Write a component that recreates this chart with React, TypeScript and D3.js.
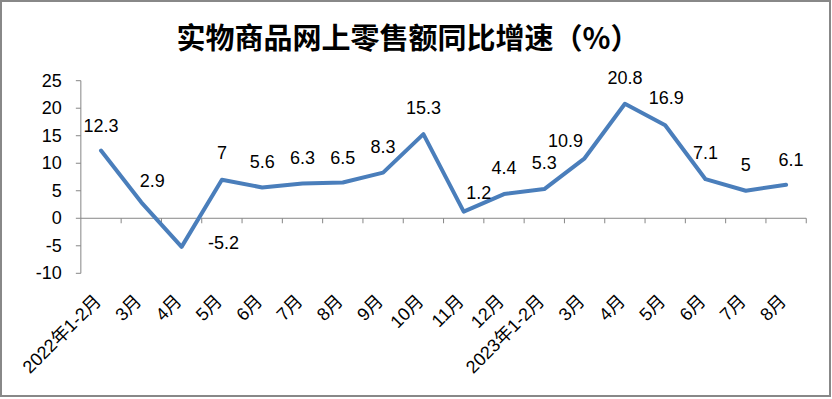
import React from "react";
import * as d3 from "d3";

const categories = [
  "2022年1-2月", "3月", "4月", "5月", "6月", "7月", "8月", "9月", "10月",
  "11月", "12月", "2023年1-2月", "3月", "4月", "5月", "6月", "7月", "8月",
];
const values = [12.3, 2.9, -5.2, 7, 5.6, 6.3, 6.5, 8.3, 15.3, 1.2, 4.4, 5.3, 10.9, 20.8, 16.9, 7.1, 5, 6.1];
const yTicks = [-10, -5, 0, 5, 10, 15, 20, 25];
const title = "实物商品网上零售额同比增速（%）";

// label nudges (dx, dy) relative to the point, in px
const labelNudge: [number, number][] = [
  [0, -25], [11, -21], [42, -4], [0, -27], [0, -25], [0, -26], [0, -25], [0, -26], [0, -26],
  [15, -19], [0, -26], [0, -26], [-19, -17], [0, -26], [1, -27], [0, -26], [0, -26], [5, -25],
];

const W = 832;
const H = 399;
const LEFT = 80.85;
const RIGHT = 806.25;
const TOP = 80.7;
const BOTTOM = 273.3;

export default function App() {
  const x = d3.scaleBand<number>().domain(d3.range(categories.length)).range([LEFT, RIGHT]).padding(0);
  const y = d3.scaleLinear().domain([-10, 25]).range([BOTTOM, TOP]);
  const cx = (i: number) => (x(i) as number) + x.bandwidth() / 2;
  const line = d3
    .line<number>()
    .x((_, i) => cx(i))
    .y((d) => y(d));
  const axisColor = "#868686";
  const latin = "'Liberation Sans', 'Noto Sans CJK SC', sans-serif";
  const y0 = y(0);

  return (
    <svg
      width={W}
      height={H}
      style={{ position: "absolute", left: 0, top: 0, background: "#fff" }}
    >
      <rect x={0} y={0} width={W} height={H} fill="#fff" />
      <rect x={1} y={1} width={829} height={395} fill="none" stroke="#888" strokeWidth={2} />
      <text
        x={408}
        y={36}
        textAnchor="middle"
        dominantBaseline="central"
        fontFamily="'Noto Sans CJK SC', sans-serif"
        fontWeight="bold"
        fontSize={29}
        fill="#000"
      >
        {title}
      </text>

      {/* y axis */}
      <line x1={LEFT} x2={LEFT} y1={TOP} y2={BOTTOM} stroke={axisColor} strokeWidth={1} />
      {yTicks.map((t) => (
        <g key={t}>
          <line x1={LEFT - 5} x2={LEFT} y1={y(t)} y2={y(t)} stroke={axisColor} strokeWidth={1} />
          <text
            x={LEFT - 19}
            y={y(t)}
            textAnchor="end"
            dominantBaseline="central"
            fontFamily={latin}
            fontSize={18}
            fill="#000"
          >
            {t}
          </text>
        </g>
      ))}

      {/* x axis at zero */}
      <line x1={LEFT} x2={RIGHT} y1={y0} y2={y0} stroke={axisColor} strokeWidth={1} />
      {d3.range(1, categories.length + 1).map((i) => {
        const bx = i < categories.length ? (x(i) as number) : RIGHT;
        return <line key={i} x1={bx} x2={bx} y1={y0} y2={y0 + 5} stroke={axisColor} strokeWidth={1} />;
      })}
      {categories.map((c, i) => (
        <text
          key={i}
          transform={`translate(${cx(i) - 3},298) rotate(-45)`}
          textAnchor="end"
          dominantBaseline="central"
          fontFamily={latin}
          fontSize={18}
          fill="#000"
        >
          {c}
        </text>
      ))}

      <path
        d={line(values) || ""}
        fill="none"
        stroke="#4A7EBB"
        strokeWidth={4}
        strokeLinejoin="round"
        strokeLinecap="round"
      />

      {values.map((v, i) => (
        <text
          key={i}
          x={cx(i) + labelNudge[i][0]}
          y={y(v) + labelNudge[i][1]}
          textAnchor="middle"
          dominantBaseline="central"
          fontFamily={latin}
          fontSize={18}
          fill="#000"
        >
          {v}
        </text>
      ))}
    </svg>
  );
}
